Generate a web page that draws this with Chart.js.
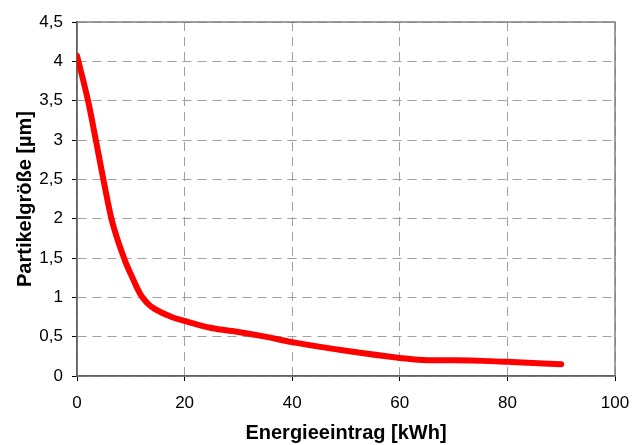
<!DOCTYPE html>
<html>
<head>
<meta charset="utf-8">
<script src="https://cdn.jsdelivr.net/npm/chart.js@4"></script>
<style>
  html, body { margin: 0; padding: 0; background: #fff; }
  #wrap { width: 632px; height: 445px; }
</style>
</head>
<body>
<div id="wrap"><canvas id="grafico" width="632" height="445"></canvas></div>
<script>
// Energieeintrag [kWh] und Partikelgröße [µm]
const energie = [0, 2.05, 3.5, 4.9, 6.4, 8.9, 10.3, 11.1, 11.7, 12.4, 13.3, 14.5, 17.6, 20, 25, 30, 35, 40, 50, 60, 65, 70, 80, 90];
const partikel = [4.07, 3.5, 3.0, 2.5, 2.0, 1.47, 1.25, 1.13, 1.05, 0.98, 0.91, 0.85, 0.75, 0.7, 0.61, 0.56, 0.5, 0.43, 0.32, 0.23, 0.2, 0.2, 0.18, 0.15];
const xTitel = 'Energieeintrag [kWh]';
const yTitel = 'Partikelgröße [µm]';

const punkte = energie.map((x, i) => ({ x: x, y: partikel[i] }));

// grauer Rahmen oben und rechts
const rahmen = {
    id: 'rahmen',
    beforeDatasetsDraw(chart) {
        const a = chart.chartArea;
        const ctx = chart.ctx;
        ctx.save();
        ctx.strokeStyle = '#808080';
        ctx.lineWidth = 1.5;
        ctx.strokeRect(a.left, a.top, a.right - a.left, a.bottom - a.top);
        ctx.restore();
    }
};

Chart.defaults.font.family = "'Liberation Sans', Arial, sans-serif";
Chart.defaults.color = '#000';

new Chart(document.getElementById('grafico').getContext('2d'), {
    type: 'scatter',
    data: {
        datasets: [{
            data: punkte,
            showLine: true,
            borderColor: '#ff0000',
            borderWidth: 6,
            pointRadius: 0,
            cubicInterpolationMode: 'monotone',
            borderCapStyle: 'round'
        }]
    },
    options: {
        responsive: false,
        animation: false,
        layout: { padding: { left: 13, right: 17, top: 22, bottom: 0 } },
        plugins: {
            legend: { display: false },
            tooltip: { enabled: false }
        },
        scales: {
            x: {
                min: 0, max: 100,
                afterFit: s => { s.height = 69; s.paddingRight = 0; s.paddingLeft = 0; },
                ticks: { stepSize: 20, font: { size: 17 }, padding: 12, maxRotation: 0 },
                grid: {
                    color: '#a0a0a0',
                    tickColor: '#000',
                    tickBorderDash: [],
                    tickLength: 5
                },
                border: { color: '#000', width: 1.5, dash: [9, 6] },
                title: { display: true, text: xTitel, font: { size: 20, weight: 'bold' }, padding: { top: 7, bottom: 0 } }
            },
            y: {
                min: 0, max: 4.5,
                afterFit: s => { s.width = 64; },
                ticks: {
                    stepSize: 0.5, font: { size: 17 }, padding: 9,
                    callback: v => String(v).replace('.', ',')
                },
                grid: {
                    color: '#a0a0a0',
                    tickColor: '#000',
                    tickBorderDash: [],
                    tickLength: 5
                },
                border: { color: '#000', width: 1.5, dash: [9, 6] },
                title: { display: true, text: yTitel, font: { size: 20, weight: 'bold' }, padding: { top: 0, bottom: 2 } }
            }
        }
    },
    plugins: [rahmen]
});
</script>
</body>
</html>
